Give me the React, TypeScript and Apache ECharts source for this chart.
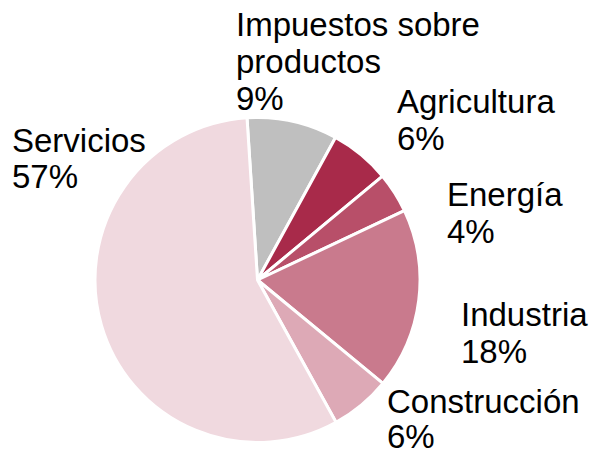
import React, { useEffect, useRef } from "react";
import * as echarts from "echarts";

const categories = [
  "Impuestos sobre\nproductos",
  "Agricultura",
  "Energía",
  "Industria",
  "Construcción",
  "Servicios",
];
const shares = [9, 6, 4, 18, 6, 57];
const colors = ["#BFBFBF", "#A82A4A", "#B84F69", "#C97A8D", "#DDA9B6", "#F0D9DF"];
// label anchor positions (top-left of each label block) and line heights
const labelPos: [number, number][] = [
  [236, 6],
  [397, 83],
  [447, 176],
  [461, 296],
  [387, 384],
  [12, 122],
];
const labelLineHeights = [37, 37, 37, 37, 35, 36];

export default function App() {
  const ref = useRef<HTMLDivElement>(null);
  useEffect(() => {
    if (!ref.current) return;
    const chart = echarts.init(ref.current, undefined, { renderer: "svg" });
    chart.setOption({
      animation: false,
      backgroundColor: "#ffffff",
      series: [
        {
          type: "pie",
          center: [257.5, 280],
          radius: [0, 162.5],
          startAngle: 93.7,
          clockwise: true,
          avoidLabelOverlap: false,
          itemStyle: { borderColor: "#ffffff", borderWidth: 3 },
          label: {
            show: true,
            formatter: (p: any) => `${p.name}\n${p.value}%`,
            fontFamily: "'Liberation Sans', Arial, sans-serif",
            fontSize: 33,
            lineHeight: 37,
            color: "#000000",
            align: "left",
          },
          labelLine: { show: false },
          labelLayout: (params: any) => {
            const pos = labelPos[params.dataIndex];
            return { x: pos[0], y: pos[1], align: "left", verticalAlign: "top" };
          },
          data: categories.map((name, i) => ({
            name,
            value: shares[i],
            itemStyle: { color: colors[i] },
            label: { lineHeight: labelLineHeights[i] },
          })),
        },
      ],
    });
    return () => chart.dispose();
  }, []);
  return (
    <div
      ref={ref}
      style={{ position: "fixed", left: 0, top: 0, width: 594, height: 455 }}
    />
  );
}
